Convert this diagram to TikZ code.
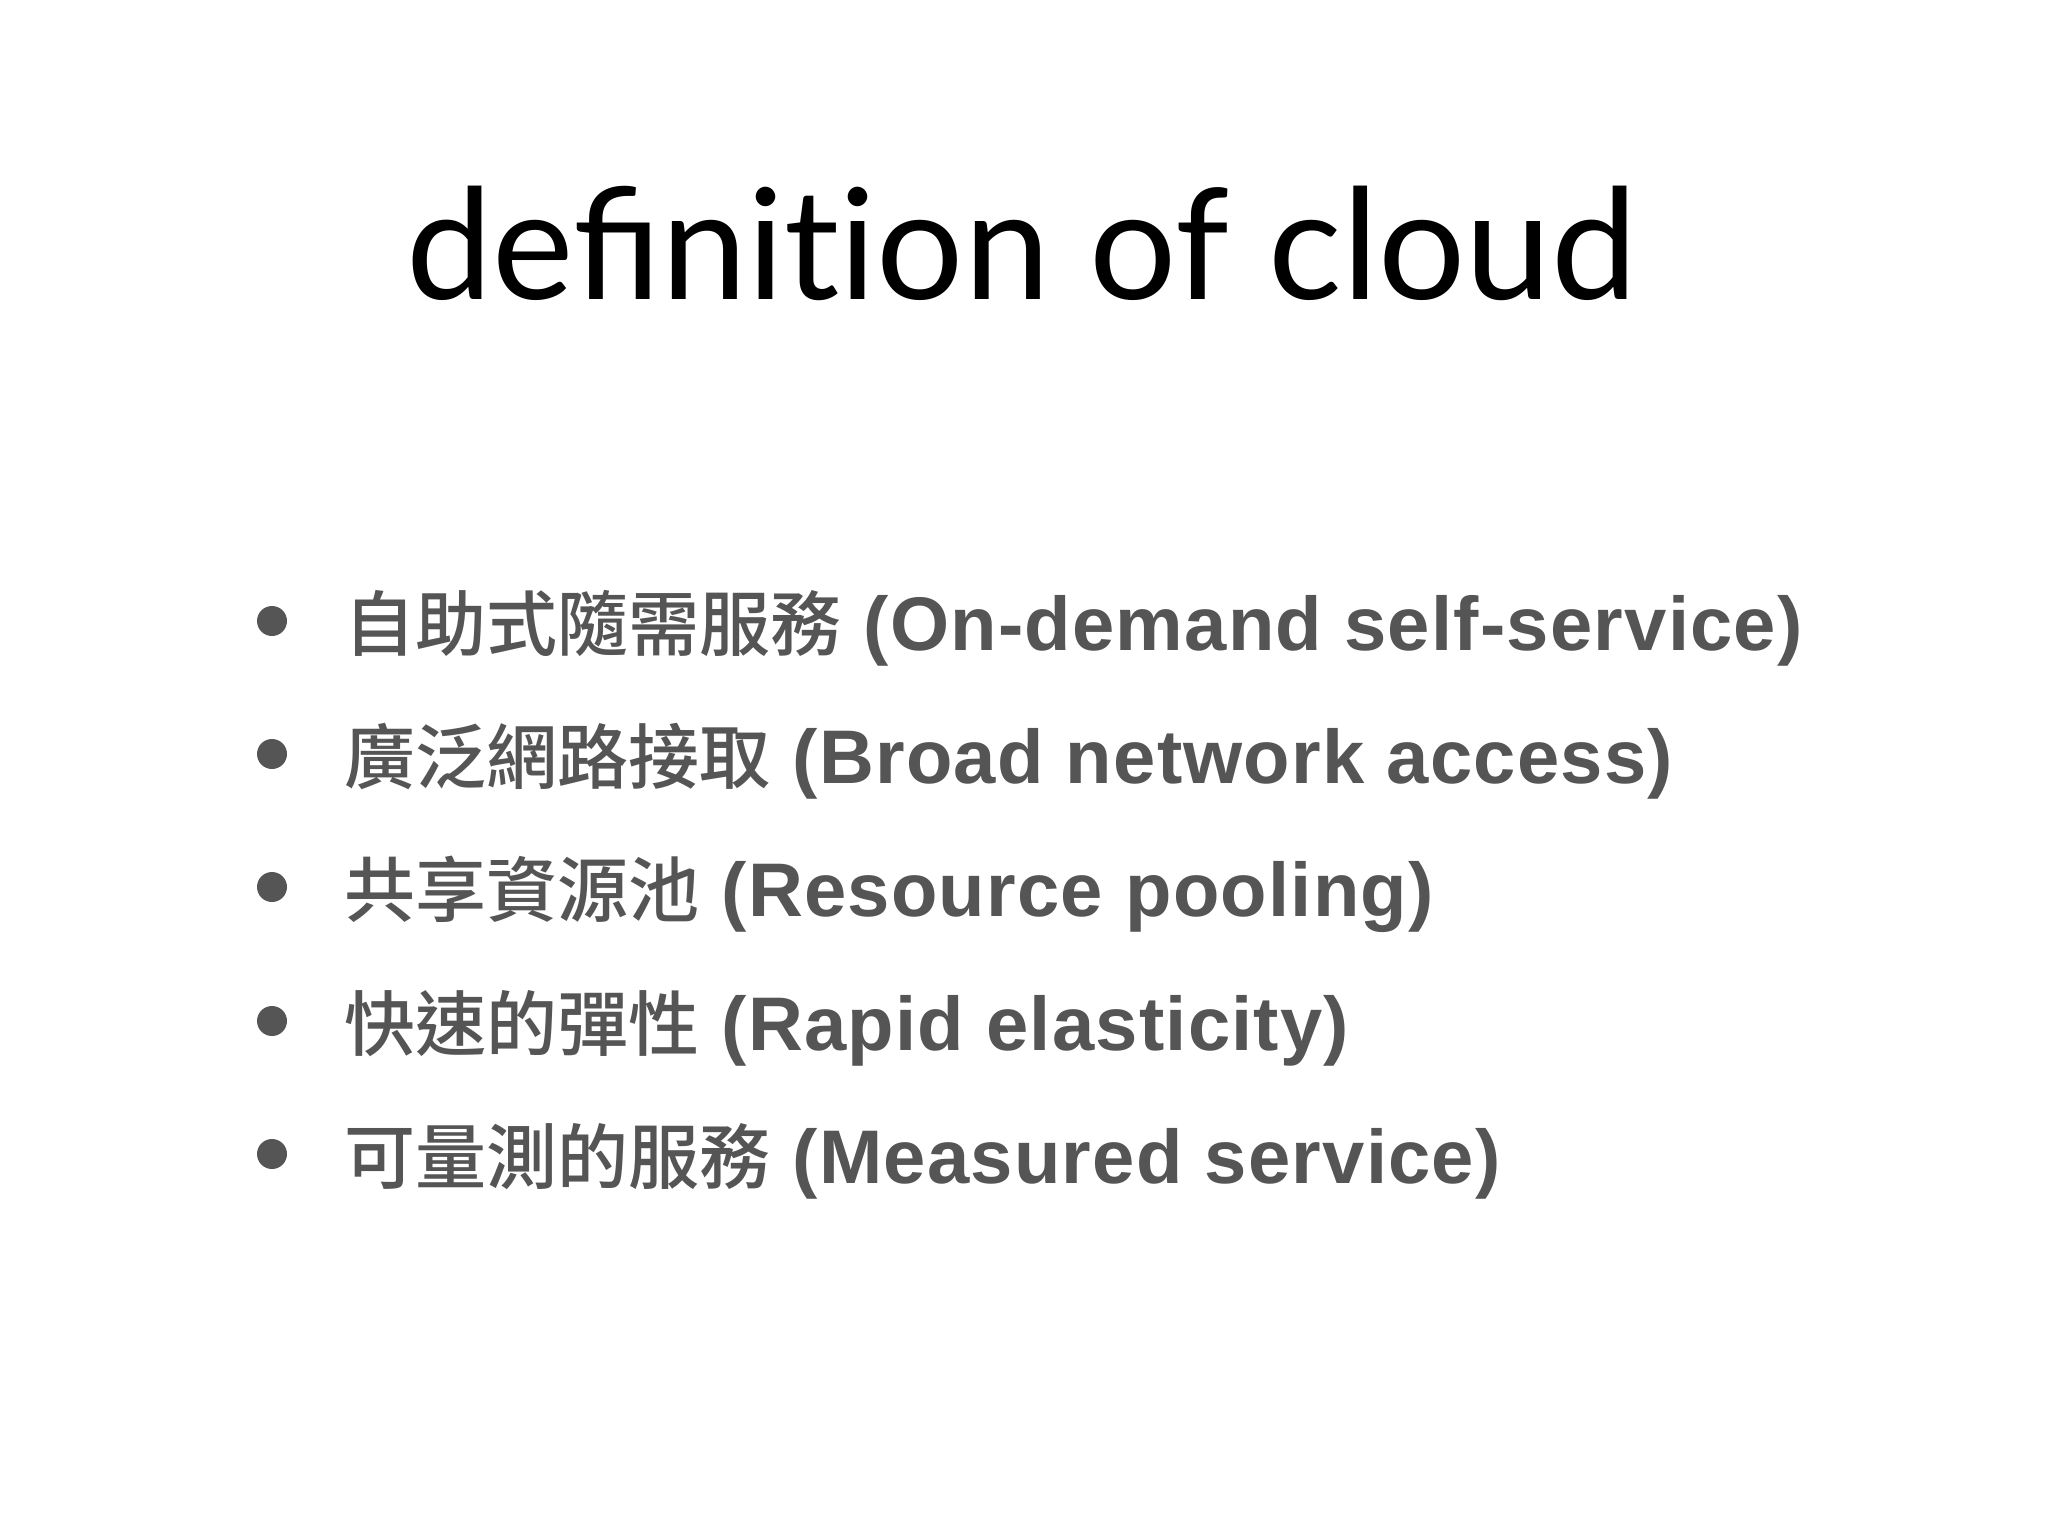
\documentclass[tikz,border=0pt]{standalone}
\usepackage{fontspec}
\setmainfont{Liberation Sans}
\newfontfamily\titlefont{Lato}
\newfontfamily\latinfam[LetterSpace=1.6]{Liberation Sans}
\newfontfamily\cjkfam{Noto Sans CJK TC Medium}
\newcommand\cjkt{\fontsize{35.5pt}{40pt}\selectfont\cjkfam}
\newcommand\latint{\fontsize{38pt}{44pt}\selectfont\latinfam\bfseries}
\newcommand\nolig{\kern0pt}
\definecolor{txtgray}{RGB}{85,85,85}
\begin{document}
\begin{tikzpicture}[x=0.5pt,y=-0.5pt]
\tikzset{
  item/.style={anchor=base west,inner sep=0pt,text=txtgray},
  dot/.style={circle,fill=txtgray,minimum size=15pt,inner sep=0pt}
}
\useasboundingbox[fill=white] (0,0) rectangle (2048,1536);
\node[anchor=base,inner sep=0pt,font=\fontsize{77pt}{88pt}\selectfont\titlefont] (title) at (1022,299) {definit\nolig ion of cloud};
\node[dot] (b1) at (272,621) {};
\node[dot] (b2) at (272,754) {};
\node[dot] (b3) at (272,887) {};
\node[dot] (b4) at (272,1021) {};
\node[dot] (b5) at (272,1154) {};
\node[item] (t1) at (344,650) {{\cjkt 自助式隨需服務}\latint{} (On-demand self-service)};
\node[item] (t2) at (344,783) {{\cjkt 廣泛網路接取}\latint{} (Broad network access)};
\node[item] (t3) at (344,916) {{\cjkt 共享資源池}\latint{} (Resource pooling)};
\node[item] (t4) at (344,1050) {{\cjkt 快速的彈性}\latint{} (Rapid elasticity)};
\node[item] (t5) at (344,1183) {{\cjkt 可量測的服務}\latint{} (Measured service)};
\end{tikzpicture}
\end{document}
